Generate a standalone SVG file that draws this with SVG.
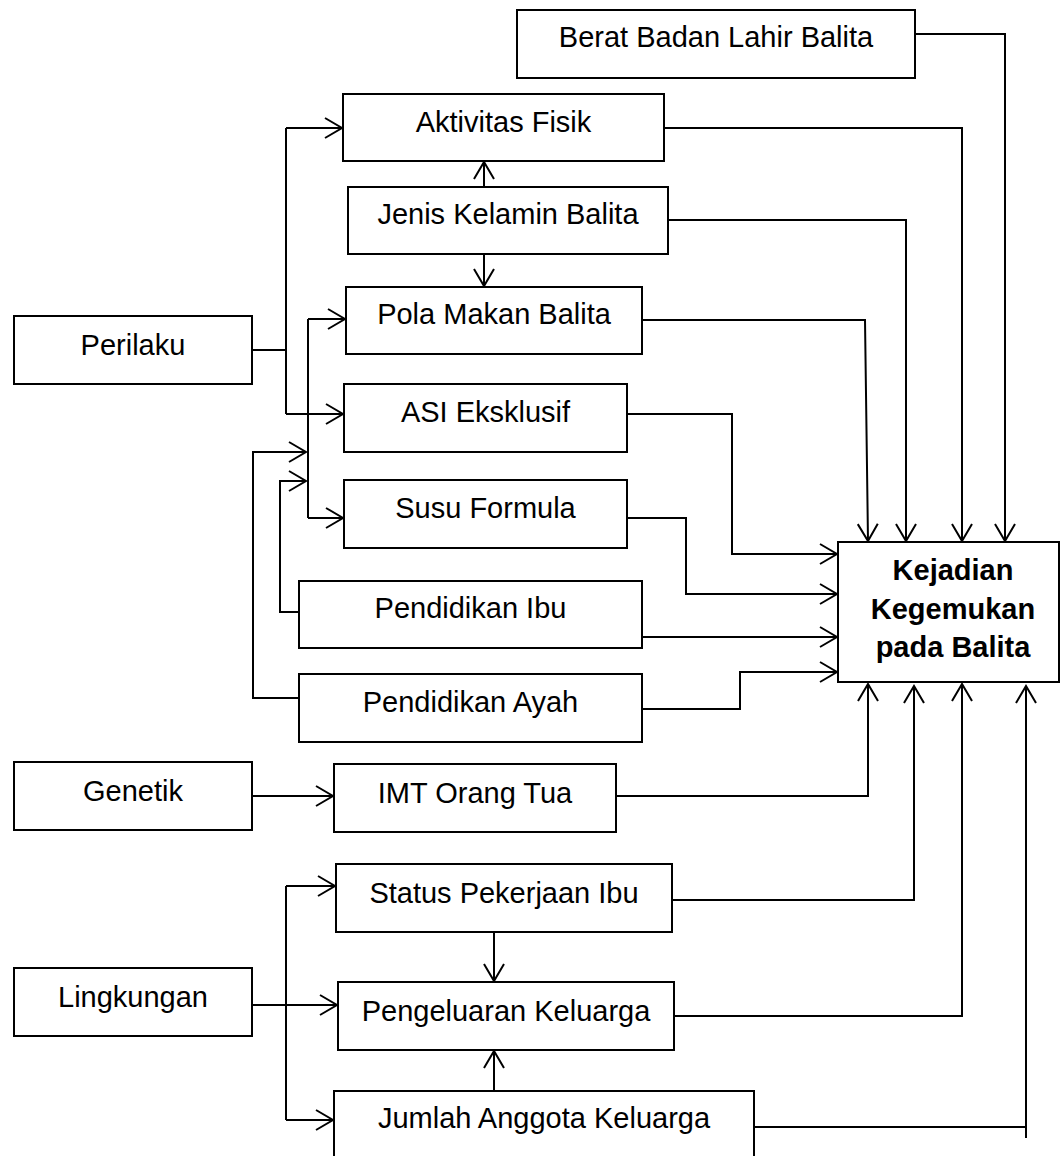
<svg xmlns="http://www.w3.org/2000/svg" width="1061" height="1156" viewBox="0 0 1061 1156">
<style>
.box{fill:#fff;stroke:#000;stroke-width:2}
.t{font-family:"Liberation Sans",Arial,sans-serif;font-size:29px;fill:#000;text-anchor:middle}
.tb{font-family:"Liberation Sans",Arial,sans-serif;font-size:29px;font-weight:bold;fill:#000;text-anchor:middle}
.c{fill:none;stroke:#000;stroke-width:2}
.a{marker-end:url(#arr)}
</style>
<defs>
<marker id="arr" markerUnits="userSpaceOnUse" markerWidth="24" markerHeight="24" viewBox="-20 -12 22 24" refX="0" refY="0" orient="auto">
<path d="M-17,-10 L0,0 L-17,10" fill="none" stroke="#000" stroke-width="2"/>
</marker>
</defs>
<rect width="1061" height="1156" fill="#fff"/>
<g id="connectors">
<path class="c" d="M252,350 H286"/>
<path class="c" d="M286,128 V414"/>
<path class="c a" d="M286,128 H342"/>
<path class="c a" d="M286,414 H343"/>
<path class="c" d="M308,319 V518"/>
<path class="c a" d="M308,319 H345"/>
<path class="c a" d="M308,518 H343"/>
<path class="c a" d="M299,698 H253 V452 H306"/>
<path class="c a" d="M299,612 H280 V481 H306"/>
<path class="c a" d="M484,187 V162"/>
<path class="c a" d="M484,254 V286"/>
<path class="c a" d="M915,34 H1005 V541"/>
<path class="c a" d="M664,128 H962 V541"/>
<path class="c a" d="M668,220 H906 V541"/>
<path class="c a" d="M642,320 H865 L868,541"/>
<path class="c a" d="M627,414 H732 V554 H837"/>
<path class="c a" d="M627,518 H686 V594 H837"/>
<path class="c a" d="M642,637 H837"/>
<path class="c a" d="M642,709 H740 V672 H837"/>
<path class="c a" d="M252,796 H333"/>
<path class="c a" d="M616,796 H868 V684"/>
<path class="c a" d="M672,900 H914 V686"/>
<path class="c a" d="M674,1016 H962 V684"/>
<path class="c" d="M754,1127 H1026"/>
<path class="c a" d="M1026,1138 V686"/>
<path class="c a" d="M252,1005 H337"/>
<path class="c" d="M286,886 V1120"/>
<path class="c a" d="M286,886 H335"/>
<path class="c a" d="M286,1120 H333"/>
<path class="c a" d="M494,932 V981"/>
<path class="c a" d="M494,1091 V1051"/>
</g>
<g id="berat"><rect class="box" x="517" y="10" width="398" height="68"/><text class="t" x="716" y="47">Berat Badan Lahir Balita</text></g>
<g id="aktivitas"><rect class="box" x="343" y="94" width="321" height="67"/><text class="t" x="503.5" y="132">Aktivitas Fisik</text></g>
<g id="jenis"><rect class="box" x="348" y="187" width="320" height="67"/><text class="t" x="508" y="224">Jenis Kelamin Balita</text></g>
<g id="pola"><rect class="box" x="346" y="287" width="296" height="67"/><text class="t" x="494" y="324">Pola Makan Balita</text></g>
<g id="perilaku"><rect class="box" x="14" y="316" width="238" height="68"/><text class="t" x="133" y="355">Perilaku</text></g>
<g id="asi"><rect class="box" x="344" y="384" width="283" height="68"/><text class="t" x="485.5" y="422">ASI Eksklusif</text></g>
<g id="susu"><rect class="box" x="344" y="480" width="283" height="68"/><text class="t" x="485.5" y="518">Susu Formula</text></g>
<g id="ibu"><rect class="box" x="299" y="581" width="343" height="67"/><text class="t" x="470.5" y="618">Pendidikan Ibu</text></g>
<g id="ayah"><rect class="box" x="299" y="674" width="343" height="68"/><text class="t" x="470.5" y="712">Pendidikan Ayah</text></g>
<g id="kejadian"><rect class="box" x="838" y="542" width="221" height="140"/><text class="tb" x="953" y="580">Kejadian</text><text class="tb" x="953" y="619">Kegemukan</text><text class="tb" x="953" y="657">pada Balita</text></g>
<g id="genetik"><rect class="box" x="14" y="762" width="238" height="68"/><text class="t" x="133" y="801">Genetik</text></g>
<g id="imt"><rect class="box" x="334" y="764" width="282" height="68"/><text class="t" x="475" y="803">IMT Orang Tua</text></g>
<g id="status"><rect class="box" x="336" y="864" width="336" height="68"/><text class="t" x="504" y="903">Status Pekerjaan Ibu</text></g>
<g id="lingkungan"><rect class="box" x="14" y="968" width="238" height="68"/><text class="t" x="133" y="1007">Lingkungan</text></g>
<g id="pengeluaran"><rect class="box" x="338" y="982" width="336" height="68"/><text class="t" x="506" y="1021">Pengeluaran Keluarga</text></g>
<g id="jumlah"><rect class="box" x="334" y="1091" width="420" height="70"/><text class="t" x="544" y="1128">Jumlah Anggota Keluarga</text></g>
</svg>
